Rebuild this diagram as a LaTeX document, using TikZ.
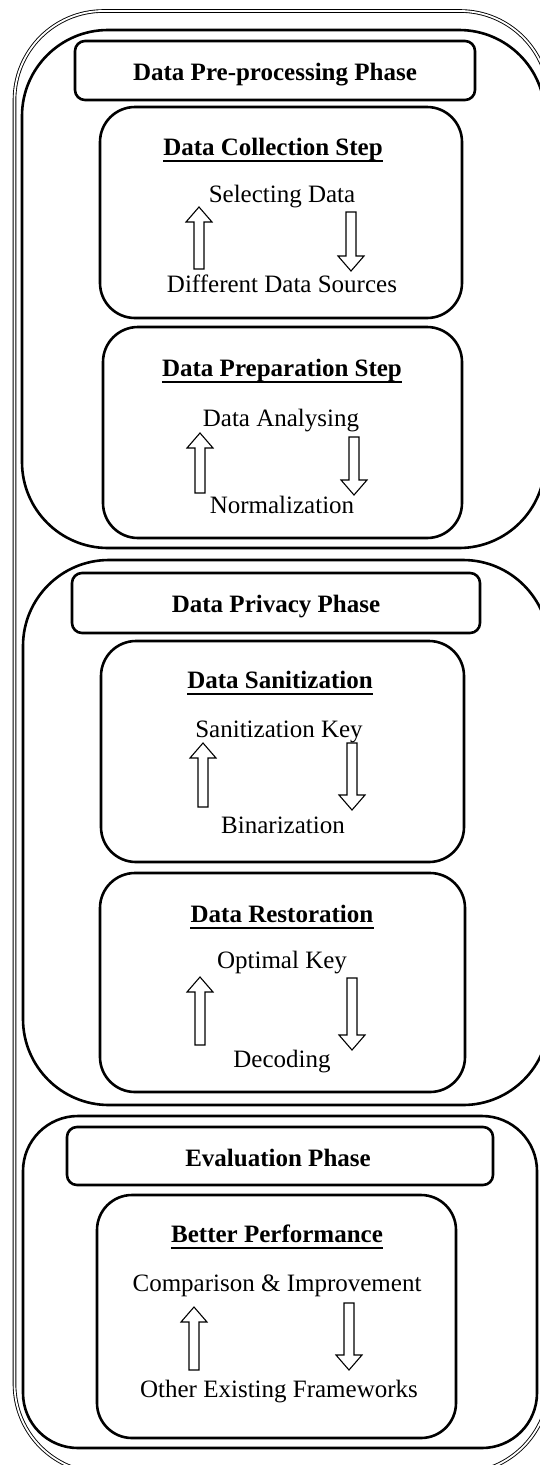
\documentclass[tikz,border=0pt]{standalone}
\usepackage{fontspec}
\setmainfont{Liberation Serif}
\newcommand{\uparr}[3]{%
  \draw[blockarr] (#1,#2) -- ++(13,15) -- ++(-8,0) -- (#1+5,#3) -- (#1-5,#3) -- (#1-5,#2+15) -- ++(-8,0) -- cycle;}
\newcommand{\dnarr}[3]{%
  \draw[blockarr] (#1,#3) -- ++(13,-15) -- ++(-8,0) -- (#1+5,#2) -- (#1-5,#2) -- (#1-5,#3-15) -- ++(-8,0) -- cycle;}
\begin{document}
\begin{tikzpicture}[x=1pt,y=-1pt,
  outerbox/.style={draw, line width=0.9pt, double, double distance=1.8pt, rounded corners=89pt},
  phasebox/.style={draw, line width=2.6pt, rounded corners=#1},
  titlebox/.style={draw, line width=2.6pt, rounded corners=10pt},
  stepbox/.style={draw, line width=2.6pt, rounded corners=35pt},
  blockarr/.style={draw, line width=1.1pt, fill=white},
  txt/.style={inner sep=0pt, anchor=base, font=\fontsize{25}{30}\selectfont},
  btxt/.style={txt, font=\fontsize{25}{30}\selectfont\bfseries},
  uline/.style={line width=1.4pt}
]
\useasboundingbox (0,0) rectangle (539,1465);
% outer frame
\draw[outerbox] (14.5,11) rectangle (549,1473);
% ---------- phase 1
\draw[phasebox=86pt] (22,30) rectangle (545,548);
\draw[titlebox] (75,41) rectangle (475,100);
\node[btxt] (p1) at (275,80) {Data Pre-processing Phase};
\draw[stepbox] (100,107) rectangle (462,318);
\node[btxt] (s1) at (273,155) {Data Collection Step};
\draw[uline] ([yshift=-6pt]s1.base west) -- ([yshift=-6pt]s1.base east);
\node[txt] (s1a) at (282,202) {Selecting Data};
\node[txt] (s1b) at (282,292) {Different Data Sources};
\uparr{199}{207}{269}
\dnarr{351}{212}{271}
\draw[stepbox] (103,327) rectangle (462,538);
\node[btxt] (s2) at (282,376) {Data Preparation Step};
\draw[uline] ([yshift=-6pt]s2.base west) -- ([yshift=-6pt]s2.base east);
\node[txt] (s2a) at (281,426) {Data Analysing};
\node[txt] (s2b) at (282,513) {Normalization};
\uparr{200}{433}{493}
\dnarr{354}{437}{495}
% ---------- phase 2
\draw[phasebox=86pt] (23,560) rectangle (549,1105);
\draw[titlebox] (72,573) rectangle (480,633);
\node[btxt] (p2) at (276,612) {Data Privacy Phase};
\draw[stepbox] (101,641) rectangle (464,862);
\node[btxt] (s3) at (280,688) {Data Sanitization};
\draw[uline] ([yshift=-6pt]s3.base west) -- ([yshift=-6pt]s3.base east);
\node[txt] (s3a) at (279,737) {Sanitization Key};
\node[txt] (s3b) at (283,833) {Binarization};
\uparr{203}{743}{807}
\dnarr{352}{743}{810}
\draw[stepbox] (100,873) rectangle (465,1092);
\node[btxt] (s4) at (282,922) {Data Restoration};
\draw[uline] ([yshift=-6pt]s4.base west) -- ([yshift=-6pt]s4.base east);
\node[txt] (s4a) at (282,968) {Optimal Key};
\node[txt] (s4b) at (282,1067) {Decoding};
\uparr{200}{977}{1045}
\dnarr{352}{978}{1050}
% ---------- phase 3
\draw[phasebox=55pt] (23,1116) rectangle (537,1448);
\draw[titlebox] (67,1127) rectangle (493,1185);
\node[btxt] (p3) at (278,1166) {Evaluation Phase};
\draw[stepbox] (97,1195) rectangle (456,1438);
\node[btxt] (s5) at (277,1242) {Better Performance};
\draw[uline] ([yshift=-6pt]s5.base west) -- ([yshift=-6pt]s5.base east);
\node[txt] (s5a) at (277,1291) {Comparison \& Improvement};
\node[txt] (s5b) at (279,1397) {Other Existing Frameworks};
\uparr{194}{1307}{1370}
\dnarr{349}{1303}{1370}
\end{tikzpicture}
\end{document}
